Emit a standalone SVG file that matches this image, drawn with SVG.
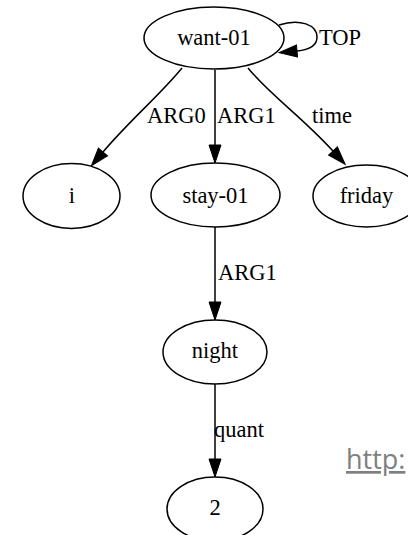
<svg xmlns="http://www.w3.org/2000/svg" width="408" height="535" viewBox="0 0 408 535">
<style>
.node ellipse{fill:#fff;stroke:#000;stroke-width:1.5}
.lbl{font-family:"Liberation Serif","Times New Roman",serif;font-size:22.5px;fill:#000}
.mid{text-anchor:middle}
.edge{fill:none;stroke:#000;stroke-width:1.5;marker-end:url(#arr)}
.url{font-family:"Open Sans","Liberation Sans",sans-serif;font-size:27px;fill:#7f7f7f;text-decoration:underline}
</style>
<defs>
<marker id="arr" markerUnits="userSpaceOnUse" markerWidth="20" markerHeight="14" refX="0" refY="6" orient="auto" viewBox="0 0 20 14" overflow="visible">
<path d="M0,0 L18,6 L0,12 z" fill="#000" stroke="#000" stroke-width="1"/>
</marker>
</defs>
<rect width="408" height="535" fill="#fff"/>
<g id="connectors">
<path class="edge" d="M279,25 C300,18 317,25 317,37 C317,47 308,50 297,51"/>
<path class="edge" d="M182,68 C160,95 130,120 103,152"/>
<path class="edge" d="M215,70 L215,145"/>
<path class="edge" d="M248,68 C270,95 300,115 333,151"/>
<path class="edge" d="M215,227 L215,302"/>
<path class="edge" d="M215,384 L215,459"/>
<text class="lbl" x="319" y="45">TOP</text>
<text class="lbl" x="147" y="123">ARG0</text>
<text class="lbl" x="217" y="123">ARG1</text>
<text class="lbl" x="312" y="123">time</text>
<text class="lbl" x="218" y="280">ARG1</text>
<text class="lbl" x="214" y="437">quant</text>
</g>
<g id="want-01" class="node"><ellipse cx="214" cy="38" rx="70" ry="31"/><text class="lbl mid" x="214" y="45">want-01</text></g>
<g id="i" class="node"><ellipse cx="71.5" cy="196" rx="48.5" ry="32.5"/><text class="lbl mid" x="72" y="203">i</text></g>
<g id="stay-01" class="node"><ellipse cx="215.5" cy="195" rx="64.5" ry="32"/><text class="lbl mid" x="215.5" y="203">stay-01</text></g>
<g id="friday" class="node"><ellipse cx="366.5" cy="196" rx="53.5" ry="31"/><text class="lbl mid" x="366.5" y="203">friday</text></g>
<g id="night" class="node"><ellipse cx="215" cy="352" rx="52" ry="32"/><text class="lbl mid" x="215" y="358">night</text></g>
<g id="n2" class="node"><ellipse cx="215" cy="509" rx="48" ry="32"/><text class="lbl mid" x="215" y="515">2</text></g>
<text class="url" x="346" y="469">http:</text>
</svg>
